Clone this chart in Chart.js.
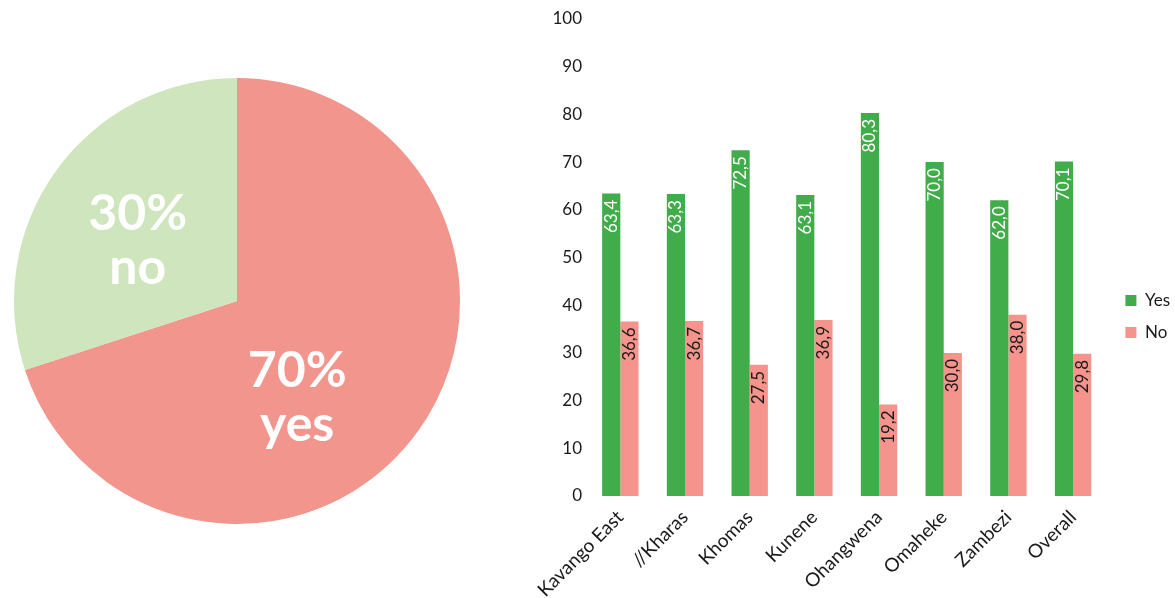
<!DOCTYPE html>
<html>
<head>
<meta charset="utf-8">
<script src="https://cdn.jsdelivr.net/npm/chart.js@4.4.1/dist/chart.umd.min.js"></script>
<style>
html, body { margin: 0; padding: 0; background: #fff; overflow: hidden; }
#pieBox { position: absolute; left: 14px; top: 78px; width: 446px; height: 446px; }
#barBox { position: absolute; left: 520px; top: 0; width: 655px; height: 598px; }
</style>
</head>
<body>
<div id="pieBox"><canvas id="pieChart"></canvas></div>
<div id="barBox"><canvas id="barChart"></canvas></div>
<script>
// data
const pieLabels = ['yes', 'no'];
const pieValues = [70, 30];

const regions   = ['Kavango East', '//Kharas', 'Khomas', 'Kunene', 'Ohangwena', 'Omaheke', 'Zambezi', 'Overall'];
const yesValues = [63.4, 63.3, 72.5, 63.1, 80.3, 70.0, 62.0, 70.1];
const noValues  = [36.6, 36.7, 27.5, 36.9, 19.2, 30.0, 38.0, 29.8];
const yTicks    = [0, 10, 20, 30, 40, 50, 60, 70, 80, 90, 100];

// colours
const pieRed   = '#F2958D';
const pieGreen = '#CFE5BD';
const barGreen = '#41AD4A';
const barRed   = '#F5948C';
const ink      = '#1a1a1a';

// where the big pie labels sit, in units of the radius from the centre
const pieLabelPos = [[0.27, 0.43], [-0.445, -0.275]];

/* pie labels: percentage + word, white bold */
const pieText = {
    id: 'pieText',
    afterDatasetsDraw(chart) {
        const ctx = chart.ctx;
        const meta = chart.getDatasetMeta(0);
        ctx.save();
        ctx.fillStyle = '#fff';
        ctx.textAlign = 'center';
        ctx.textBaseline = 'middle';
        ctx.font = 'bold 50px Lato';
        meta.data.forEach((arc, i) => {
            const p = arc.getProps(['x', 'y', 'outerRadius'], true);
            const cx = p.x + p.outerRadius * pieLabelPos[i][0];
            const cy = p.y + p.outerRadius * pieLabelPos[i][1];
            ctx.fillText(pieValues[i] + '%', cx, cy - 26);
            ctx.fillText(pieLabels[i], cx, cy + 28);
        });
        ctx.restore();
    }
};

new Chart(document.getElementById('pieChart'), {
    type: 'pie',
    data: {
        labels: pieLabels,
        datasets: [{
            data: pieValues,
            backgroundColor: [pieRed, pieGreen],
            borderWidth: 0
        }]
    },
    options: {
        responsive: true,
        maintainAspectRatio: false,
        animation: false,
        plugins: { legend: { display: false }, tooltip: { enabled: false } }
    },
    plugins: [pieText]
});

/* bar labels, rotated, hanging from the top of each bar */
const barText = {
    id: 'barText',
    afterDatasetsDraw(chart) {
        const ctx = chart.ctx;
        ctx.save();
        ctx.font = '17px Lato';
        ctx.textAlign = 'right';
        ctx.textBaseline = 'middle';
        chart.data.datasets.forEach((ds, di) => {
            ctx.fillStyle = di === 0 ? '#fff' : ink;
            chart.getDatasetMeta(di).data.forEach((bar, i) => {
                ctx.save();
                ctx.translate(bar.x, bar.y + 6);
                ctx.rotate(-Math.PI / 2);
                ctx.fillText(ds.data[i].toFixed(1).replace('.', ','), 0, 0);
                ctx.restore();
            });
        });
        ctx.restore();
    }
};

/* nudge the legend a little right and down, like the original */
const legendNudge = {
    id: 'legendNudge',
    afterLayout(chart) {
        const lg = chart.legend;
        lg.left += 5; lg.right += 5;
        lg.top += 8; lg.bottom += 8;
    }
};

new Chart(document.getElementById('barChart'), {
    type: 'bar',
    data: {
        labels: regions,
        datasets: [
            { label: 'Yes', data: yesValues, backgroundColor: barGreen },
            { label: 'No',  data: noValues,  backgroundColor: barRed }
        ]
    },
    options: {
        responsive: true,
        maintainAspectRatio: false,
        animation: false,
        categoryPercentage: 0.5625,
        barPercentage: 1.0,
        layout: { padding: { top: 19, right: 0, bottom: 0, left: 0 } },
        plugins: {
            tooltip: { enabled: false },
            legend: {
                position: 'right',
                labels: {
                    color: ink,
                    font: { family: 'Lato', size: 17 },
                    boxWidth: 11,
                    boxHeight: 11,
                    padding: 15
                }
            }
        },
        scales: {
            x: {
                grid: { display: false },
                border: { display: false },
                ticks: {
                    color: ink,
                    font: { family: 'Lato', size: 19 },
                    maxRotation: 45,
                    minRotation: 45,
                    padding: 2
                },
                afterFit: s => { s.height = 102; }
            },
            y: {
                min: 0,
                max: 100,
                grid: { display: false, drawTicks: false },
                border: { display: false },
                afterBuildTicks: s => { s.ticks = yTicks.map(v => ({ value: v })); },
                ticks: {
                    color: ink,
                    font: { family: 'Lato', size: 17 },
                    padding: 6
                },
                afterFit: s => { s.width = 68; }
            }
        }
    },
    plugins: [barText, legendNudge]
});
</script>
</body>
</html>
